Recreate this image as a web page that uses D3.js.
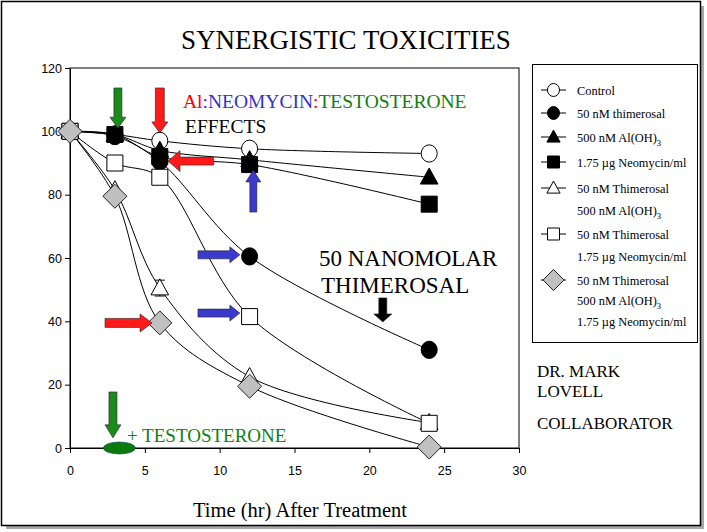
<!DOCTYPE html>
<html>
<head>
<meta charset="utf-8">
<script src="https://cdn.jsdelivr.net/npm/d3@7"></script>
<style>
  body { margin: 0; background: #fff; }
  svg { display: block; }
</style>
</head>
<body>
<script>
// data (percent survival vs hours)
var times = [0, 3, 6, 12, 24];
var control = [100, 99, 97, 94.5, 93];
var thimerosal = [100, 98.5, 90.5, 60.5, 31];
var aluminum = [100, 99, 94, 91, 85.5];
var neomycin = [100, 99, 92, 89.5, 77];
var thimAl = [100, 81.5, 50.5, 22.5, 8];
var thimNeo = [100, 90, 85.5, 41.5, 7.8];
var thimAlNeo = [100, 79.5, 39.5, 19.5, 0.3];
var thimAlErr = [0, 0, 2.5, 0, 0];
var thimNeoErr = [0, 0, 0, 0, 2];

var xTicks = [0, 5, 10, 15, 20, 25, 30];
var yTicks = [0, 20, 40, 60, 80, 100, 120];

var legendLabels = [
  ["Control"],
  ["50 nM thimerosal"],
  ["500 nM Al(OH)|3"],
  ["1.75 \u00b5g Neomycin/ml"],
  ["50 nM Thimerosal", "500 nM Al(OH)|3"],
  ["50 nM Thimerosal", "1.75 \u00b5g Neomycin/ml"],
  ["50 nM Thimerosal", "500 nM Al(OH)|3", "1.75 \u00b5g Neomycin/ml"]
];

var series = [
  { values: control,    shape: "circle",   fill: "#fff" },
  { values: thimerosal, shape: "circle",   fill: "#000" },
  { values: aluminum,   shape: "triangle", fill: "#000" },
  { values: neomycin,   shape: "square",   fill: "#000" },
  { values: thimAl,     shape: "triangle", fill: "#fff", err: thimAlErr },
  { values: thimNeo,    shape: "square",   fill: "#fff", err: thimNeoErr },
  { values: thimAlNeo,  shape: "diamond",  fill: "#c0c0c0" }
];

// annotation arrows, in data units: [t1, v1, t2, v2] tail -> tip
var arrows = [
  { p: [3.2, 113.7, 3.2, 101],   color: "#1a8a1a", w: 8, hw: 16, hl: 11 },
  { p: [6.0, 113.7, 6.0, 99.5],  color: "#ff1a1a", w: 9, hw: 16, hl: 11 },
  { p: [9.6, 90.6, 6.55, 90.6],  color: "#ff1a1a", w: 8, hw: 21, hl: 12 },
  { p: [12.25, 74.5, 12.25, 87.8], color: "#3a3acc", w: 7, hw: 15, hl: 12 },
  { p: [8.55, 61, 11.35, 61],    color: "#3a3acc", w: 8, hw: 16, hl: 10 },
  { p: [8.55, 42.6, 11.35, 42.6], color: "#3a3acc", w: 8, hw: 16, hl: 10 },
  { p: [2.34, 39.5, 5.48, 39.5], color: "#ff1a1a", w: 9, hw: 18, hl: 12 },
  { p: [20.9, 47.4, 20.9, 39.8], color: "#000",    w: 8, hw: 18, hl: 8 },
  { p: [2.87, 17.7, 2.87, 3.2],  color: "#1a8a1a", w: 8, hw: 16, hl: 13 }
];

var W = 707, H = 532;
var serif = "'Liberation Serif', 'Times New Roman', serif";
var sans = "'Liberation Sans Narrow', 'Liberation Sans', Arial, sans-serif";

var svg = d3.select("body").append("svg")
    .attr("width", W)
    .attr("height", H);

// slide frame with shadow
svg.append("rect").attr("x", 6).attr("y", 6).attr("width", 698).attr("height", 523)
   .attr("fill", "#a8a8a8");
svg.append("rect").attr("x", 1.5).attr("y", 1.5).attr("width", 699).attr("height", 524)
   .attr("fill", "#fff").attr("stroke", "#000").attr("stroke-width", 1.5);

var x = d3.scaleLinear().domain([0, 30]).range([70, 519]);
var y = d3.scaleLinear().domain([0, 120]).range([448, 68]);

// plot box
svg.append("rect")
   .attr("x", x(0)).attr("y", y(120))
   .attr("width", x(30) - x(0)).attr("height", y(0) - y(120))
   .attr("fill", "none").attr("stroke", "#000").attr("stroke-width", 1);

var yAxis = svg.append("g")
    .attr("transform", "translate(" + x(0) + ",0)")
    .call(d3.axisLeft(y).tickValues(yTicks).tickSize(5).tickSizeOuter(0).tickPadding(3));
var xAxis = svg.append("g")
    .attr("transform", "translate(0," + y(0) + ")")
    .call(d3.axisBottom(x).tickValues(xTicks).tickSize(5).tickSizeOuter(0).tickPadding(13));
[xAxis, yAxis].forEach(function(a) {
  a.selectAll("text").attr("font-family", sans).attr("font-size", 12.5).attr("fill", "#000");
  a.selectAll("line, path").attr("stroke", "#000");
});

// title and axis title
svg.append("text").attr("x", 346).attr("y", 49).attr("text-anchor", "middle")
   .attr("font-family", serif).attr("font-size", 27).text("SYNERGISTIC TOXICITIES");
svg.append("text").attr("x", 300).attr("y", 517).attr("text-anchor", "middle")
   .attr("font-family", serif).attr("font-size", 20.5).text("Time (hr) After Treatment");

// marker shapes
function shapePath(shape, s) {
  if (shape === "circle") return null;
  if (shape === "square") return "M" + (-s) + "," + (-s) + "h" + (2 * s) + "v" + (2 * s) + "h" + (-2 * s) + "Z";
  if (shape === "triangle") return "M0," + (-s * 1.15) + "L" + (s * 1.1) + "," + (s * 0.85) + "L" + (-s * 1.1) + "," + (s * 0.85) + "Z";
  if (shape === "diamond") return "M0," + (-s * 1.5) + "L" + (s * 1.5) + ",0L0," + (s * 1.5) + "L" + (-s * 1.5) + ",0Z";
}
function drawMarker(g, shape, fill, cx, cy, s) {
  if (shape === "circle") {
    g.append("ellipse").attr("cx", cx).attr("cy", cy).attr("rx", s).attr("ry", s * 1.08)
     .attr("fill", fill).attr("stroke", "#000").attr("stroke-width", 1);
  } else {
    g.append("path").attr("transform", "translate(" + cx + "," + cy + ")")
     .attr("d", shapePath(shape, s))
     .attr("fill", fill).attr("stroke", fill === "#c0c0c0" ? "#222" : "#000").attr("stroke-width", 1);
  }
}

var line = d3.line()
    .x(function(d, i) { return x(times[i]); })
    .y(function(d) { return y(d); })
    .curve(d3.curveCatmullRom.alpha(0.5));

var plot = svg.append("g");
series.forEach(function(s) {
  plot.append("path").attr("d", line(s.values))
      .attr("fill", "none").attr("stroke", "#000").attr("stroke-width", 1);
});
series.forEach(function(s) {
  var g = plot.append("g");
  if (s.err) {
    s.values.forEach(function(v, i) {
      if (!s.err[i]) return;
      var cx = x(times[i]);
      g.append("path")
       .attr("d", "M" + cx + "," + y(v - s.err[i]) + "V" + y(v + s.err[i]) +
             "M" + (cx - 5) + "," + y(v - s.err[i]) + "h10M" + (cx - 5) + "," + y(v + s.err[i]) + "h10")
       .attr("stroke", "#000").attr("fill", "none");
    });
  }
  s.values.forEach(function(v, i) {
    drawMarker(g, s.shape, s.fill, x(times[i]), y(v), 8);
  });
});

// arrows
function arrowPoints(x1, y1, x2, y2, w, hw, hl) {
  var dx = x2 - x1, dy = y2 - y1, len = Math.sqrt(dx * dx + dy * dy);
  var ux = dx / len, uy = dy / len, px = -uy, py = ux;
  var bx = x2 - ux * hl, by = y2 - uy * hl;
  var pts = [
    [x1 + px * w / 2, y1 + py * w / 2],
    [bx + px * w / 2, by + py * w / 2],
    [bx + px * hw / 2, by + py * hw / 2],
    [x2, y2],
    [bx - px * hw / 2, by - py * hw / 2],
    [bx - px * w / 2, by - py * w / 2],
    [x1 - px * w / 2, y1 - py * w / 2]
  ];
  return pts.map(function(p) { return p.join(","); }).join(" ");
}
svg.append("g").selectAll("polygon")
   .data(arrows).enter().append("polygon")
   .attr("points", function(d) {
     return arrowPoints(x(d.p[0]), y(d.p[1]), x(d.p[2]), y(d.p[3]), d.w, d.hw, d.hl);
   })
   .attr("fill", function(d) { return d.color; })
   .attr("stroke", "#222").attr("stroke-width", 0.6);

// testosterone ellipse
svg.append("ellipse").attr("cx", x(3.3)).attr("cy", y(0)).attr("rx", 16).attr("ry", 6)
   .attr("fill", "#0a7a0a").attr("stroke", "#044").attr("stroke-width", 0.6);

// annotation text
var t1 = svg.append("text").attr("x", 183).attr("y", 108)
   .attr("font-family", serif).attr("font-size", 19.5);
t1.append("tspan").attr("fill", "#ff0000").text("Al");
t1.append("tspan").attr("fill", "#3333cc").text(":NEOMYCIN");
t1.append("tspan").attr("fill", "#ff0000").text(":");
t1.append("tspan").attr("fill", "#108010").text("TESTOSTERONE");
svg.append("text").attr("x", 185).attr("y", 133).attr("font-family", serif)
   .attr("font-size", 19.5).text("EFFECTS");
svg.append("text").attr("x", 319).attr("y", 266).attr("font-family", serif)
   .attr("font-size", 23).text("50 NANOMOLAR");
svg.append("text").attr("x", 321).attr("y", 293).attr("font-family", serif)
   .attr("font-size", 23).text("THIMEROSAL");
svg.append("text").attr("x", 127).attr("y", 442).attr("font-family", serif)
   .attr("font-size", 19).attr("fill", "#108010").text("+ TESTOSTERONE");

svg.append("text").attr("x", 537).attr("y", 377).attr("font-family", serif)
   .attr("font-size", 17).text("DR. MARK");
svg.append("text").attr("x", 537).attr("y", 397).attr("font-family", serif)
   .attr("font-size", 17).text("LOVELL");
svg.append("text").attr("x", 537).attr("y", 429).attr("font-family", serif)
   .attr("font-size", 17).text("COLLABORATOR");

// legend
var legend = svg.append("g");
legend.append("rect").attr("x", 532.5).attr("y", 64.5).attr("width", 165).attr("height", 278)
   .attr("fill", "#fff").attr("stroke", "#000").attr("stroke-width", 1);
var rowY = [[90], [113], [137], [162], [188, 210], [234, 256], [280, 300, 321]];
series.forEach(function(s, i) {
  var cy = rowY[i][0];
  legend.append("line").attr("x1", 541).attr("x2", 566).attr("y1", cy).attr("y2", cy)
     .attr("stroke", "#000");
  var sz = s.shape === "diamond" ? 7 : 6;
  drawMarker(legend, s.shape, s.fill, 553.5, cy, sz);
  legendLabels[i].forEach(function(lab, j) {
    var parts = lab.split("|");
    var t = legend.append("text").attr("x", 577).attr("y", rowY[i][j] + 4.5)
       .attr("font-family", serif).attr("font-size", 12.4).text(parts[0]);
    if (parts[1]) {
      t.append("tspan").attr("font-size", 8.5).attr("dy", 4).text(parts[1]);
    }
  });
});
</script>
</body>
</html>
